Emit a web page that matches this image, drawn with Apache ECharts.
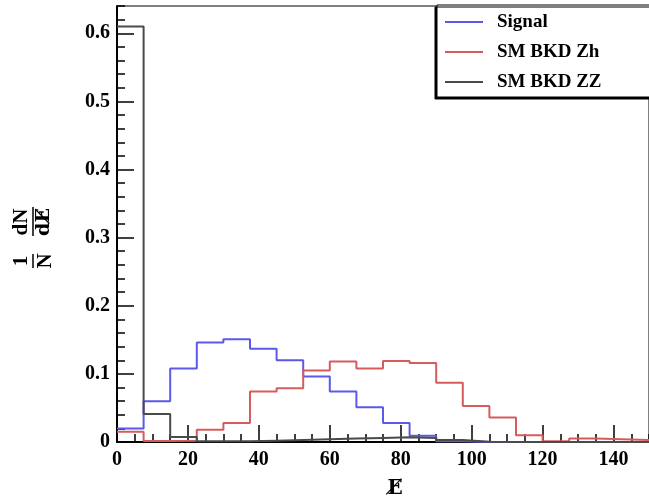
<!DOCTYPE html>
<html>
<head>
<meta charset="utf-8">
<script src="https://cdn.jsdelivr.net/npm/echarts@6/dist/echarts.min.js"></script>
<style>
html,body{margin:0;padding:0;background:#fff;}
#chart{width:649px;height:500px;}
</style>
</head>
<body>
<div id="chart"></div>
<script>
// Bin edges (MET), 20 bins of width 7.5
const binEdges = [0, 7.5, 15, 22.5, 30, 37.5, 45, 52.5, 60, 67.5, 75, 82.5, 90, 97.5, 105, 112.5, 120, 127.5, 135, 142.5, 150];
// Normalised bin contents (1/N dN/dMET)
const signal = [0.020, 0.060, 0.108, 0.146, 0.151, 0.137, 0.120, 0.096, 0.074, 0.051, 0.028, 0.009, 0.001, 0, 0, 0, 0, 0, 0, 0];
const smZh   = [0.015, 0.0015, 0.002, 0.018, 0.028, 0.074, 0.079, 0.105, 0.118, 0.108, 0.119, 0.116, 0.087, 0.053, 0.036, 0.010, 0.001, 0.005, 0.004, 0.003];
const smZZ   = [0.610, 0.041, 0.0075, 0.001, 0.001, 0.002, 0.003, 0.004, 0.005, 0.006, 0.007, 0.006, 0.003, 0.0005, 0, 0, 0, 0, 0, 0];
const seriesNames = ['Signal', 'SM BKD Zh', 'SM BKD ZZ'];
const xTicks = [0, 20, 40, 60, 80, 100, 120, 140];
const yTicks = [0, 0.1, 0.2, 0.3, 0.4, 0.5, 0.6];

const FONT = '"Liberation Serif", "DejaVu Serif", serif';
const MFONT = '"DejaVu Serif", serif';

function stepData(vals) {
  return binEdges.map((e, i) => [e, i < vals.length ? vals[i] : vals[vals.length - 1]]);
}

const chart = echarts.init(document.getElementById('chart'), null, {renderer: 'canvas'});
const colors = ['#5a5ae6', '#d65c5c', '#4a4a4a'];

const option = {
  animation: false,
  backgroundColor: '#fff',
  grid: {left: 117, right: 0, top: 6, bottom: 58, outerBoundsMode: 'none', containLabel: false,
         show: true, borderColor: '#000', borderWidth: 1, backgroundColor: 'transparent'},
  legend: {
    data: seriesNames,
    orient: 'vertical',
    left: 437, top: 5,
    padding: [7, 60, 5, 8],
    itemGap: 10,
    itemWidth: 38, itemHeight: 2,
    icon: 'rect',
    backgroundColor: '#fff',
    borderColor: '#000', borderWidth: 1,
    shadowColor: '#000', shadowOffsetX: -2, shadowOffsetY: 2, shadowBlur: 0,
    textStyle: {fontFamily: FONT, fontWeight: 'bold', fontSize: 19, color: '#000', lineHeight: 20, padding: [0, 0, 0, 9]}
  },
  xAxis: [
    {type: 'value', min: 0, max: 150, interval: 20,
     name: 'E\u0338', nameLocation: 'middle', nameGap: 37,
     nameTextStyle: {fontFamily: MFONT, fontWeight: 'bold', fontSize: 20, color: '#000', padding: [0, 0, 0, 24]},
     axisLine: {show: true, onZero: false, lineStyle: {color: '#000', width: 2}},
     axisTick: {show: true, inside: true, length: 17, lineStyle: {color: '#000', width: 1.5}},
     axisLabel: {show: true, showMaxLabel: false, margin: 8, fontFamily: FONT, fontWeight: 'bold', fontSize: 20, color: '#000',
       formatter: v => xTicks.indexOf(v) >= 0 ? String(v) : ''},
     splitLine: {show: false}},
    {type: 'value', min: 0, max: 150, interval: 5, position: 'bottom',
     axisLine: {show: false}, axisLabel: {show: false}, splitLine: {show: false},
     axisTick: {show: true, inside: true, length: 8, lineStyle: {color: '#000', width: 1.5}}}
  ],
  yAxis: [
    {type: 'value', min: 0, max: 0.64, interval: 0.1,
     axisLine: {show: true, onZero: false, lineStyle: {color: '#000', width: 2}},
     axisTick: {show: true, inside: true, length: 17, lineStyle: {color: '#000', width: 1.5}},
     axisLabel: {show: true, showMaxLabel: false, margin: 7, fontFamily: FONT, fontWeight: 'bold', fontSize: 20, color: '#000',
       formatter: v => {const t = yTicks.find(y => Math.abs(y - v) < 1e-9); return t === undefined ? '' : (t === 0 ? '0' : t.toFixed(1));}},
     splitLine: {show: false}},
    {type: 'value', min: 0, max: 0.64, interval: 0.02, position: 'left',
     axisLine: {show: false}, axisLabel: {show: false}, splitLine: {show: false},
     axisTick: {show: true, inside: true, length: 8, lineStyle: {color: '#000', width: 1.5}}}
  ],
  series: [
    {name: seriesNames[0], type: 'line', step: 'end', data: stepData(signal), showSymbol: false, color: colors[0], lineStyle: {width: 2, color: colors[0]}, xAxisIndex: 0, yAxisIndex: 0},
    {name: seriesNames[1], type: 'line', step: 'end', data: stepData(smZh), showSymbol: false, color: colors[1], lineStyle: {width: 2, color: colors[1]}, xAxisIndex: 0, yAxisIndex: 0},
    {name: seriesNames[2], type: 'line', step: 'end', data: stepData(smZZ), showSymbol: false, color: colors[2], lineStyle: {width: 2, color: colors[2]}, xAxisIndex: 0, yAxisIndex: 0}
  ],
  graphic: [
    {type: 'group', x: 33, y: 240, rotation: Math.PI / 2, children: [
      {type: 'text', x: -21, y: -1, style: {text: '1', fontFamily: FONT, fontWeight: 'bold', fontSize: 21, fill: '#000', align: 'center', verticalAlign: 'bottom'}},
      {type: 'line', shape: {x1: -28, y1: 0, x2: -14, y2: 0}, style: {stroke: '#000', lineWidth: 1.5}},
      {type: 'text', x: -21, y: 2, style: {text: 'N', fontFamily: FONT, fontWeight: 'bold', fontSize: 21, fill: '#000', align: 'center', verticalAlign: 'top'}},
      {type: 'text', x: 18, y: -1, style: {text: 'dN', fontFamily: FONT, fontWeight: 'bold', fontSize: 21, fill: '#000', align: 'center', verticalAlign: 'bottom'}},
      {type: 'line', shape: {x1: 4, y1: 0, x2: 33, y2: 0}, style: {stroke: '#000', lineWidth: 1.5}},
      {type: 'text', x: 18, y: 2, style: {text: 'dE\u0338', fontFamily: MFONT, fontWeight: 'bold', fontSize: 19, fill: '#000', align: 'center', verticalAlign: 'top'}}
    ]}
  ]
};
chart.setOption(option);
</script>
</body>
</html>
